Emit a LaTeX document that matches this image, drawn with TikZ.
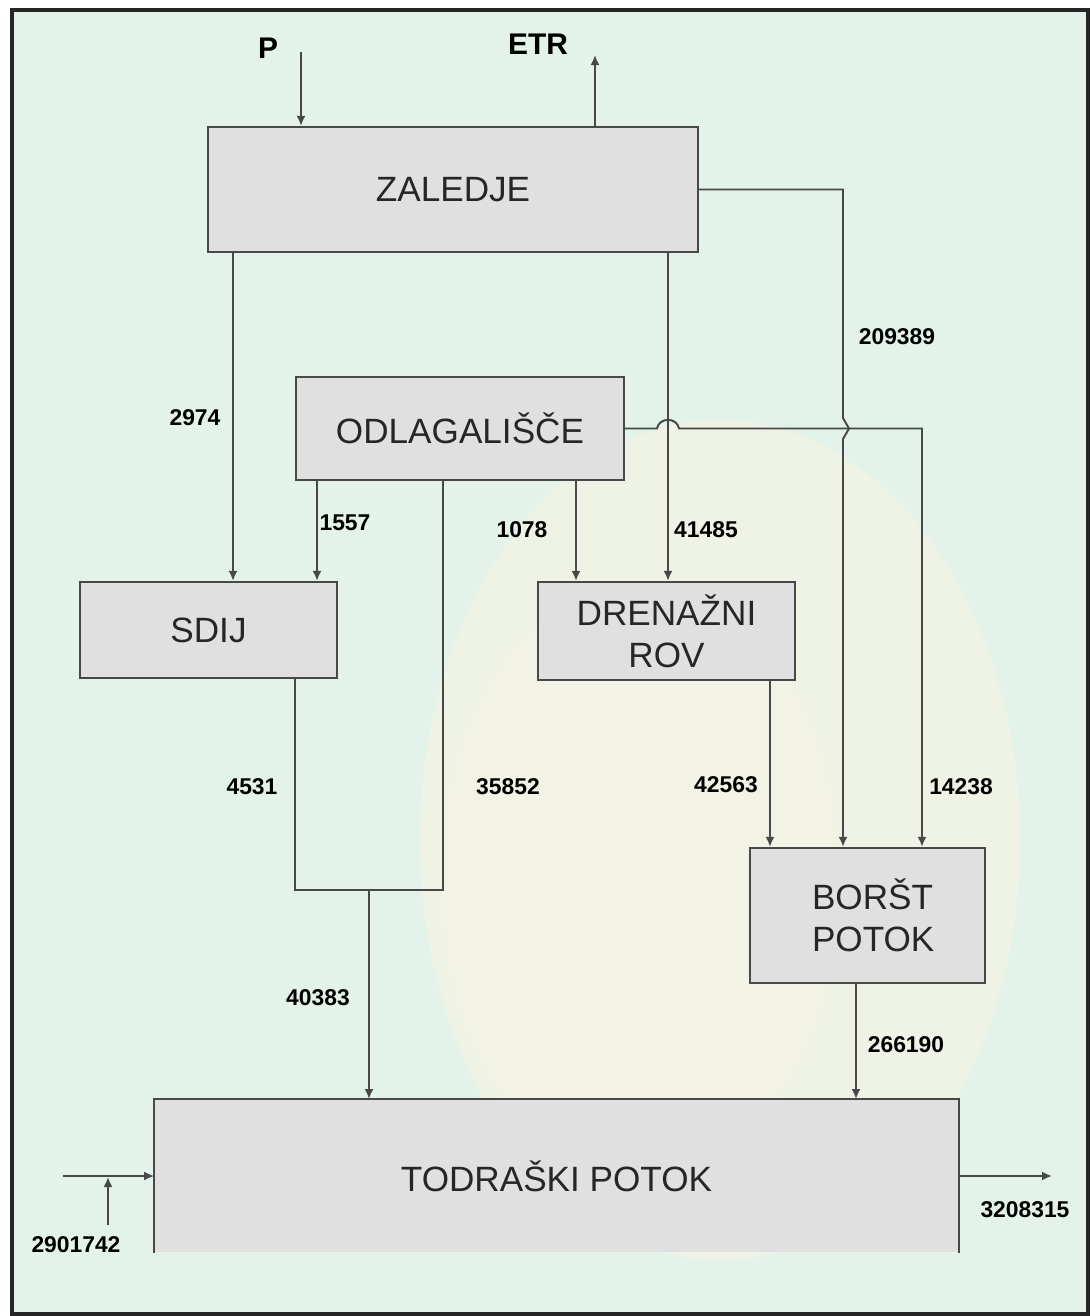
\documentclass[tikz,border=0pt]{standalone}
\usepackage{fontspec}
\setmainfont{Liberation Sans}
\usetikzlibrary{arrows.meta}
\definecolor{ozadje}{RGB}{228,243,233}
\definecolor{rumena}{RGB}{251,244,226}
\definecolor{crta}{RGB}{72,72,72}
\definecolor{polnilo}{RGB}{224,224,224}
\begin{document}
\begin{tikzpicture}[x=0.02cm, y=-0.02cm, line width=1.1pt,
    blok/.style={draw=crta, fill=polnilo, line width=1.3pt, align=center,
      text=black!85, font=\fontsize{20}{24}\selectfont},
    tok/.style={font=\bfseries\fontsize{13}{15}\selectfont},
    vtok/.style={crta, -{Latex[length=2mm,width=1.8mm]}}]
  \useasboundingbox (0,0) rectangle (1090,1316);
  \fill[ozadje] (12,10) rectangle (1088,1314);
  \fill[rumena, opacity=0.5] (720,840) ellipse (300 and 420);
  \fill[rumena, opacity=0.3] (640,880) ellipse (200 and 300);
  \draw[line width=2.2pt, black!85] (12,10) rectangle (1088,1314);

  % bloki
  \node[blok, minimum width=9.8cm, minimum height=2.5cm] (zal) at (453,189.5) {ZALEDJE};
  \node[blok, minimum width=6.56cm, minimum height=2.06cm] (odl) at (460,428.5) {ODLAGALIŠČE};
  \node[blok, minimum width=5.14cm, minimum height=1.92cm] (sdij) at (208.5,630) {SDIJ};
  \node[blok, minimum width=5.14cm, minimum height=1.96cm] (dren) at (666.5,631) {DRENAŽNI\\ROV};
  \node[blok, minimum width=4.7cm, minimum height=2.7cm, align=left,
    text width=2.22cm] (borst) at (867.5,915.5) {BORŠT\\POTOK};
  \node[fill=polnilo, minimum width=16.06cm, minimum height=3.04cm, text=black!85,
    font=\fontsize{20}{24}\selectfont] (tod) at (556.5,1176) {TODRAŠKI POTOK};
  \draw[crta, line width=1.3pt] (tod.south west) |- (tod.north east) -- (tod.south east);

  % padavine in evapotranspiracija
  \coordinate (p0) at (301,52);
  \coordinate (e0) at (595,55);
  \draw[vtok] (p0) -- (p0 |- zal.north);
  \draw[vtok] (e0 |- zal.north) -- (e0);
  \node[font=\bfseries\fontsize{17}{19}\selectfont] (pl) at (268,48) {P};
  \node[font=\bfseries\fontsize{17}{19}\selectfont] (etr) at (538,44) {ETR};

  % tokovi
  \coordinate (a1) at (233,0); \coordinate (a2) at (317,0);
  \coordinate (a3) at (576,0); \coordinate (a4) at (668,0);
  \coordinate (a5) at (843,0); \coordinate (a6) at (922,0);
  \coordinate (a7) at (770,0); \coordinate (a8) at (856,0);
  \draw[vtok] (zal.south -| a1) -- (sdij.north -| a1);
  \draw[vtok] (odl.south -| a2) -- (sdij.north -| a2);
  \draw[vtok] (odl.south -| a3) -- (dren.north -| a3);
  \draw[vtok] (zal.south -| a4) -- (dren.north -| a4);
  \draw[vtok] (zal.east) -- (zal.east -| a5) -- (843,418) -- (849,428.5) -- (843,439) -- (borst.north -| a5);
  \draw[vtok] (odl.east) -- (657,428.5) .. controls (659,417) and (677,417) .. (679,428.5)
    -- (odl.east -| a6) -- (borst.north -| a6);
  \coordinate (b1) at (295,890); \coordinate (b2) at (443,890); \coordinate (j1) at (369,890);
  \draw[crta] (sdij.south -| b1) -- (b1) -- (b2) -- (odl.south -| b2);
  \draw[vtok] (j1) -- (tod.north -| j1);
  \draw[vtok] (dren.south -| a7) -- (borst.north -| a7);
  \draw[vtok] (borst.south -| a8) -- (tod.north -| a8);
  \coordinate (v0) at (63,1176); \coordinate (v1) at (108,1225);
  \coordinate (v2) at (108,1177); \coordinate (i0) at (1052,1176);
  \draw[vtok] (v0) -- (tod.west);
  \draw[vtok] (v1) -- (v2);
  \draw[vtok] (tod.east) -- (i0);

  % vrednosti
  \node[tok] (t1) at (195,418) {2974};
  \node[tok] (t2) at (345,523) {1557};
  \node[tok] (t3) at (522,530) {1078};
  \node[tok] (t4) at (706,530) {41485};
  \node[tok] (t5) at (897,337) {209389};
  \node[tok] (t6) at (252,787) {4531};
  \node[tok] (t7) at (508,787) {35852};
  \node[tok] (t8) at (318,998) {40383};
  \node[tok] (t9) at (726,785) {42563};
  \node[tok] (t10) at (961,787) {14238};
  \node[tok] (t11) at (906,1045) {266190};
  \node[tok] (t12) at (76,1245) {2901742};
  \node[tok] (t13) at (1025,1210) {3208315};
\end{tikzpicture}
\end{document}
